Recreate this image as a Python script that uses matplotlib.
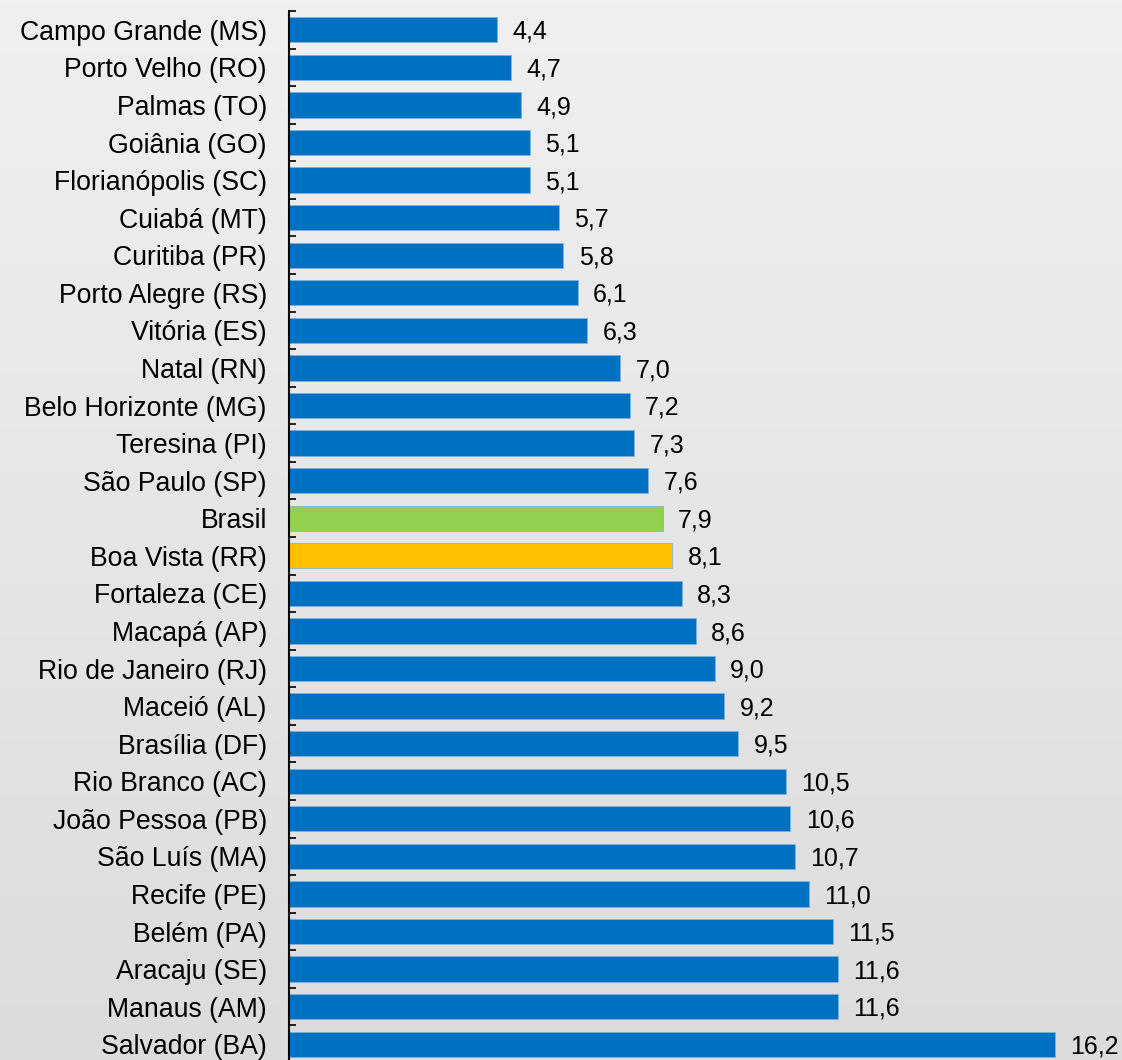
import matplotlib
matplotlib.use("Agg")
import matplotlib.pyplot as plt
import numpy as np

categories = ["Campo Grande (MS)", "Porto Velho (RO)", "Palmas (TO)", "Goiânia (GO)",
              "Florianópolis (SC)", "Cuiabá (MT)", "Curitiba (PR)", "Porto Alegre (RS)",
              "Vitória (ES)", "Natal (RN)", "Belo Horizonte (MG)", "Teresina (PI)",
              "São Paulo (SP)", "Brasil", "Boa Vista (RR)", "Fortaleza (CE)",
              "Macapá (AP)", "Rio de Janeiro (RJ)", "Maceió (AL)", "Brasília (DF)",
              "Rio Branco (AC)", "João Pessoa (PB)", "São Luís (MA)", "Recife (PE)",
              "Belém (PA)", "Aracaju (SE)", "Manaus (AM)", "Salvador (BA)"]
values = [4.4, 4.7, 4.9, 5.1, 5.1, 5.7, 5.8, 6.1, 6.3, 7.0, 7.2, 7.3, 7.6, 7.9, 8.1,
          8.3, 8.6, 9.0, 9.2, 9.5, 10.5, 10.6, 10.7, 11.0, 11.5, 11.6, 11.6, 16.2]
highlight = {"Brasil": "#92D050", "Boa Vista (RR)": "#FFC000"}
base_color = "#0070C0"

plt.rcParams['font.family'] = ['Liberation Sans', 'DejaVu Sans']

W, H = 1122, 1060
fig = plt.figure(figsize=(W / 100, H / 100), dpi=100)

# gradient background
bg = fig.add_axes([0, 0, 1, 1], zorder=0)
grad = np.linspace(0, 1, 256).reshape(-1, 1)
top = np.array([0xf0, 0xf0, 0xf0]) / 255
bot = np.array([0xdc, 0xdc, 0xdc]) / 255
img = top[None, None, :] * (1 - grad[:, :, None]) + bot[None, None, :] * grad[:, :, None]
bg.imshow(img, aspect='auto', extent=[0, 1, 0, 1], origin='upper')
bg.set_axis_off()

left = 289 / W
top_y = 1 - 11 / H
bottom_y = 1 - 1063 / H
ax = fig.add_axes([left, bottom_y, 1 - left, top_y - bottom_y], zorder=1)
ax.patch.set_alpha(0)

y = np.arange(len(categories))
colors = [highlight.get(c, base_color) for c in categories]
ax.barh(y, values, height=0.67, color=colors, edgecolor="#7fb2e0", linewidth=0.6)

for yi, v in zip(y, values):
    ax.annotate(f"{v:.1f}".replace(".", ","), xy=(v, yi), xytext=(11, -1.5),
                textcoords="offset points", ha="left", va="center", fontsize=18)

ax.set_ylim(len(categories) - 0.5, -0.5)
ax.set_xlim(0, (W - 289) / 47.3)

ax.set_yticks(y)
ax.set_yticklabels(categories, fontsize=19.2)
ax.set_yticks(np.arange(len(categories) + 1) - 0.5, minor=True)
ax.tick_params(axis='y', which='major', length=0, pad=16)
ax.tick_params(axis='y', which='minor', direction='in', length=5, width=1.2, color='black')
ax.set_xticks([])
for s in ['top', 'right', 'bottom']:
    ax.spines[s].set_visible(False)
ax.spines['left'].set_linewidth(1.5)
ax.spines['left'].set_color('black')

fig.savefig("out.png", dpi=100)
